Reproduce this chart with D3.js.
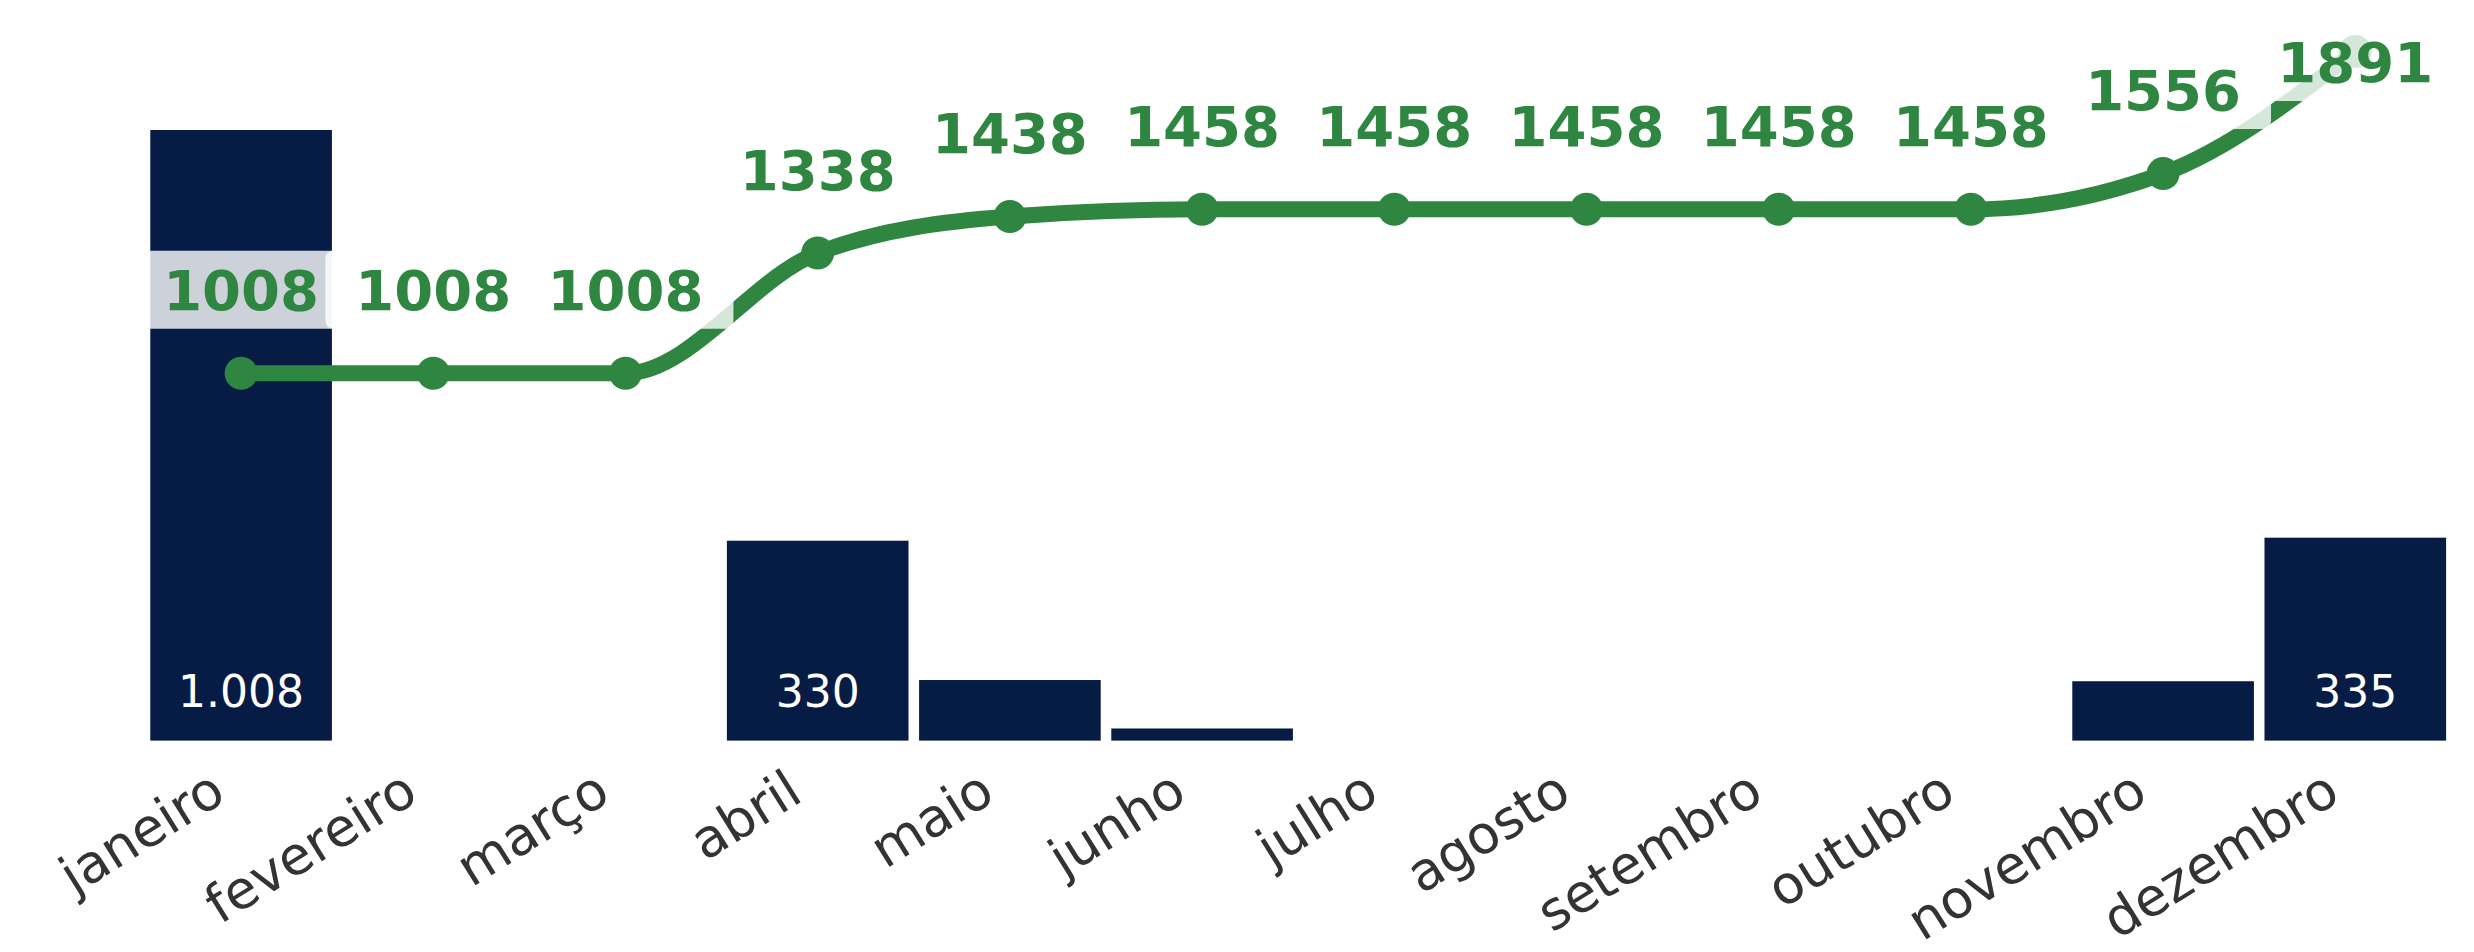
<!DOCTYPE html>
<html>
<head>
<meta charset="utf-8">
<script src="https://cdn.jsdelivr.net/npm/d3@7"></script>
<style>
  html, body { margin: 0; padding: 0; background: #ffffff; }
  svg { display: block; }
</style>
</head>
<body>
<svg id="chart" width="2474" height="952"></svg>
<script>
// ---- data ----
const months = ["janeiro", "fevereiro", "março", "abril", "maio", "junho",
                "julho", "agosto", "setembro", "outubro", "novembro", "dezembro"];
const monthlyValues = [1008, 0, 0, 330, 100, 20, 0, 0, 0, 0, 98, 335];
const cumulativeValues = [1008, 1008, 1008, 1338, 1438, 1458, 1458, 1458, 1458, 1458, 1556, 1891];
const barLabelMin = 300; // bars with values from this up carry a label

// ---- style ----
const navy = "#061c45";
const green = "#2f8640";
const baseY = 740.6;

const svg = d3.select("#chart");

const x = d3.scaleBand()
  .domain(months)
  .range([145, 2451.4])
  .paddingInner(0.055)
  .paddingOuter(0.0275);

const yBar = d3.scaleLinear()
  .domain([0, d3.max(monthlyValues)])
  .range([baseY, 130]);

const yLine = d3.scaleLinear()
  .domain([0, d3.max(cumulativeValues)])
  .range([baseY, 51.5]);

const cx = m => x(m) + x.bandwidth() / 2;

// bars
svg.append("g").selectAll("rect")
  .data(months.map((m, i) => ({ m, v: monthlyValues[i] })).filter(d => d.v > 0))
  .join("rect")
  .attr("x", d => x(d.m))
  .attr("width", x.bandwidth())
  .attr("y", d => yBar(d.v))
  .attr("height", d => baseY - yBar(d.v))
  .attr("fill", navy);

// bar labels
const fmt = v => v.toLocaleString("pt-BR");
svg.append("g").selectAll("text")
  .data(months.map((m, i) => ({ m, v: monthlyValues[i] })).filter(d => d.v >= barLabelMin))
  .join("text")
  .attr("x", d => cx(d.m))
  .attr("y", baseY - 34)
  .attr("text-anchor", "middle")
  .attr("font-family", "DejaVu Sans, Verdana, sans-serif")
  .attr("font-size", 44)
  .attr("fill", "#ffffff")
  .text(d => fmt(d.v));

// x axis labels
const axis = d3.axisBottom(x).tickSize(0).tickPadding(0);
const gAxis = svg.append("g").attr("transform", `translate(0,${baseY})`).call(axis);
gAxis.select(".domain").remove();
gAxis.selectAll(".tick text")
  .attr("font-family", "DejaVu Sans, Verdana, sans-serif")
  .attr("font-size", 53)
  .attr("fill", "#333333")
  .attr("text-anchor", "end")
  .attr("dy", null)
  .attr("y", 0)
  .attr("transform", "translate(-13,59) rotate(-32)");

// line
const pts = months.map((m, i) => ({ m, v: cumulativeValues[i] }));
const line = d3.line()
  .x(d => cx(d.m))
  .y(d => yLine(d.v))
  .curve(d3.curveMonotoneX);

svg.append("path")
  .datum(pts)
  .attr("d", line)
  .attr("fill", "none")
  .attr("stroke", green)
  .attr("stroke-width", 16)
  .attr("stroke-linejoin", "round");

svg.append("g").selectAll("circle")
  .data(pts)
  .join("circle")
  .attr("cx", d => cx(d.m))
  .attr("cy", d => yLine(d.v))
  .attr("r", 16.5)
  .attr("fill", green);

// line labels with translucent white boxes
const boxH = 78, padX = 30, minBoxTop = 23;
const gLab = svg.append("g");
pts.forEach(d => {
  const g = gLab.append("g");
  const rect = g.append("rect");
  const t = g.append("text")
    .attr("font-family", "DejaVu Sans, Verdana, sans-serif")
    .attr("font-weight", "bold")
    .attr("font-size", 56)
    .attr("fill", green)
    .attr("text-anchor", "middle")
    .text(String(d.v));
  const tw = t.node().getComputedTextLength();
  let cy = yLine(d.v) - 83.5;
  if (cy - boxH / 2 < minBoxTop) cy = minBoxTop + boxH / 2;
  const px = cx(d.m);
  rect.attr("x", px - tw / 2 - padX)
    .attr("y", cy - boxH / 2)
    .attr("width", tw + 2 * padX)
    .attr("height", boxH)
    .attr("rx", 8)
    .attr("fill", "#ffffff")
    .attr("fill-opacity", 0.8);
  t.attr("x", px).attr("y", cy + 20.4);
});
</script>
</body>
</html>
